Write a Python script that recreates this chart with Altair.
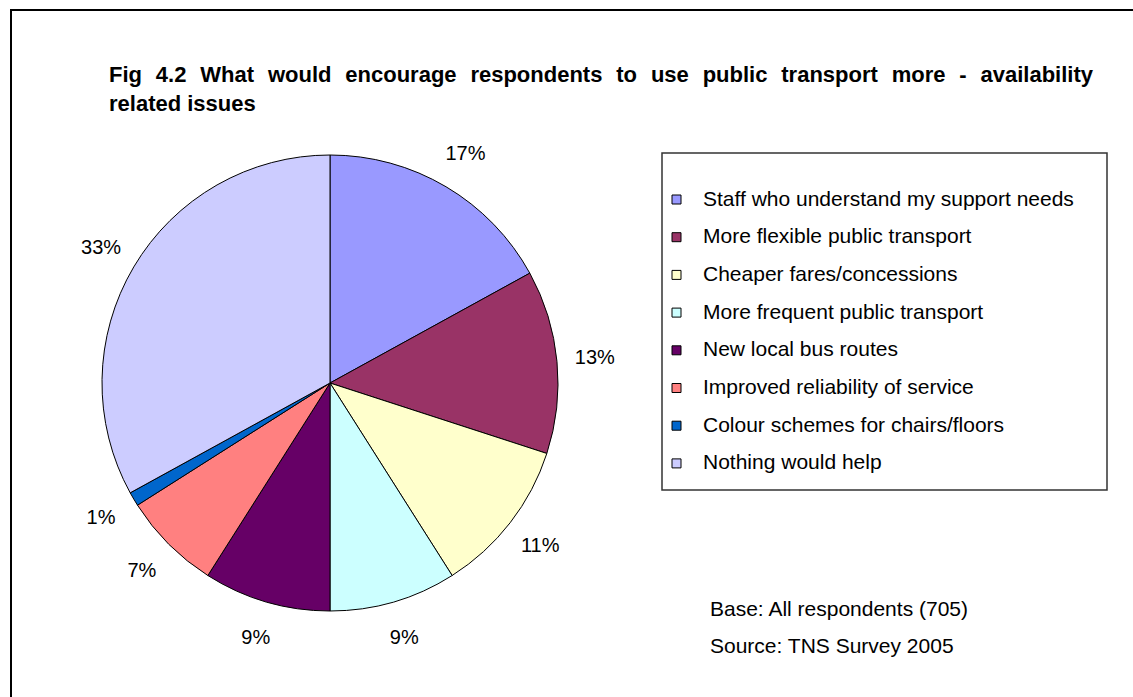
import altair as alt
import pandas as pd

categories = [
    "Staff who understand my support needs",
    "More flexible public transport",
    "Cheaper fares/concessions",
    "More frequent public transport",
    "New local bus routes",
    "Improved reliability of service",
    "Colour schemes for chairs/floors",
    "Nothing would help",
]
values = [17, 13, 11, 9, 9, 7, 1, 33]
colors = ["#9999FF", "#993366", "#FFFFCC", "#CCFFFF", "#660066", "#FF8080", "#0066CC", "#CCCCFF"]

title_lines = [
    "Fig 4.2 What would encourage respondents to use public transport more - availability",
    "related issues",
]
notes = ["Base: All respondents (705)", "Source: TNS Survey 2005"]

FONT = "Liberation Sans"
TITLE_SIZE = 22

# Arial/Liberation Sans Bold advance widths (per 1000 em) used to justify the first title line
_bold_w = {
    " ": 278, "a": 556, "b": 611, "c": 556, "d": 611, "e": 556, "f": 333, "g": 611, "h": 611,
    "i": 278, "j": 278, "k": 556, "l": 278, "m": 889, "n": 611, "o": 611, "p": 611, "q": 611,
    "r": 389, "s": 556, "t": 333, "u": 611, "v": 556, "w": 778, "x": 556, "y": 556, "z": 500,
    "F": 611, "W": 944, ".": 278, "-": 333,
}


def text_width(s, size):
    return sum(_bold_w.get(ch, 556) for ch in s) * size / 1000.0


def justify(line, x0, x1, size):
    words = line.split(" ")
    widths = [text_width(w, size) for w in words]
    gap = (x1 - x0 - sum(widths)) / (len(words) - 1)
    xs, x = [], x0
    for w in widths:
        xs.append(x)
        x += w + gap
    return pd.DataFrame({"word": words, "x": xs})


df = pd.DataFrame({
    "category": categories,
    "value": values,
    "order": list(range(len(categories))),
    "label": [f"{v}%" for v in values],
})

one = pd.DataFrame({"a": [0]})

frame = alt.Chart(one).mark_rect(fillOpacity=0, stroke="black", strokeWidth=2).encode(
    x=alt.value(11), x2=alt.value(1200), y=alt.value(10), y2=alt.value(800)
)

legend_box = alt.Chart(one).mark_rect(fillOpacity=0, stroke="#333333", strokeWidth=1.5).encode(
    x=alt.value(662), x2=alt.value(1107), y=alt.value(153), y2=alt.value(490)
)

base = alt.Chart(df)

labels = base.mark_text(radius=266, fontSize=20, font=FONT, color="black").encode(
    theta=alt.Theta("value:Q", stack=True),
    order=alt.Order("order:Q"),
    text="label:N",
    x=alt.value(330),
    y=alt.value(383),
)

pie = base.mark_arc(outerRadius=228, stroke="black", strokeWidth=1).encode(
    theta=alt.Theta("value:Q", stack=True),
    order=alt.Order("order:Q"),
    color=alt.Color(
        "category:N",
        scale=alt.Scale(domain=categories, range=colors),
        legend=alt.Legend(
            orient="none",
            legendX=666,
            legendY=189,
            title=None,
            padding=0,
            symbolType="square",
            symbolSize=81,
            symbolStrokeColor="black",
            symbolStrokeWidth=1,
            labelFont=FONT,
            labelFontSize=21,
            labelColor="black",
            labelLimit=600,
            labelOffset=16,
            rowPadding=15.7,
        ),
    ),
    x=alt.value(330),
    y=alt.value(383),
)

title1 = alt.Chart(justify(title_lines[0], 109, 1093, TITLE_SIZE)).mark_text(
    align="left", baseline="alphabetic", fontSize=TITLE_SIZE, fontWeight="bold", font=FONT
).encode(x=alt.X("x:Q", scale=None), y=alt.value(82), text="word:N")

title2 = alt.Chart(one).mark_text(
    align="left", baseline="alphabetic", fontSize=TITLE_SIZE, fontWeight="bold", font=FONT
).encode(x=alt.value(109), y=alt.value(111), text=alt.value(title_lines[1]))

note1 = alt.Chart(one).mark_text(align="left", baseline="middle", fontSize=21, font=FONT).encode(
    x=alt.value(710), y=alt.value(610), text=alt.value(notes[0])
)
note2 = alt.Chart(one).mark_text(align="left", baseline="middle", fontSize=21, font=FONT).encode(
    x=alt.value(710), y=alt.value(647), text=alt.value(notes[1])
)

chart = alt.layer(frame, legend_box, labels, pie, title1, title2, note1, note2).properties(
    width=1133, height=697, autosize=alt.AutoSizeParams(type="none"), padding=0, background="white"
).configure_view(stroke=None)

chart.save("out.html", embed_options={"renderer": "svg", "actions": False})
